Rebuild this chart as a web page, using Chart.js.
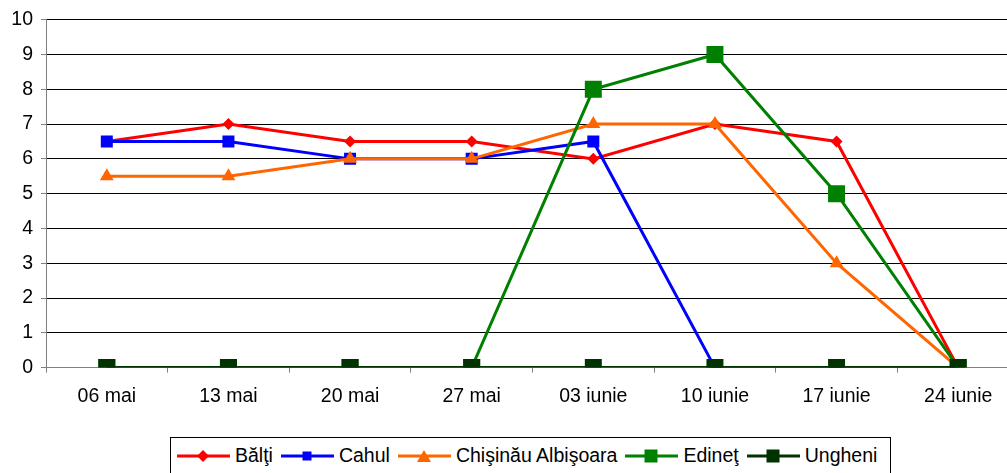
<!DOCTYPE html>
<html>
<head>
<meta charset="utf-8">
<script src="https://cdn.jsdelivr.net/npm/chart.js@4"></script>
<style>
  html, body { margin: 0; padding: 0; background: #fff; overflow: hidden; }
  body { width: 1007px; height: 473px; position: relative; font-family: "Liberation Sans", Arial, sans-serif; }
  #chart { position: absolute; left: 0; top: 0; }
  #legend {
    position: absolute; left: 170px; top: 437px; width: 721px; height: 40px;
    border: 1px solid #000; box-sizing: border-box; display: flex; align-items: flex-start;
    padding: 6px 0 0 6px; font-size: 19.5px; color: #000; white-space: nowrap;
  }
  #legend .item { display: flex; align-items: center; margin-right: 8px; }
  #legend svg { margin-right: 5px; }
</style>
</head>
<body>
<canvas id="chart" width="1031" height="420"></canvas>
<div id="legend"></div>
<script>
// categories (weeks)
const weeks = ['06 mai', '13 mai', '20 mai', '27 mai', '03 iunie', '10 iunie', '17 iunie', '24 iunie'];

// series values
const balti     = [6.5, 7, 6.5, 6.5, 6, 7, 6.5, 0];
const cahul     = [6.5, 6.5, 6, 6, 6.5, 0, 0, 0];
const albisoara = [5.5, 5.5, 6, 6, 7, 7, 3, 0];
const edinet    = [0, 0, 0, 0, 8, 9, 5, 0];
const ungheni   = [0, 0, 0, 0, 0, 0, 0, 0];

const seriesNames = ['Bălţi', 'Cahul', 'Chişinău Albişoara', 'Edineţ', 'Ungheni'];
const seriesData = [balti, cahul, albisoara, edinet, ungheni];

// y axis ticks
const yMin = 0, yMax = 10, yStep = 1;

// look of each series
const colors  = ['#ff0000', '#0000ff', '#ff6600', '#008000', '#003300'];
const markers = ['rectRot', 'rect', 'triangle', 'rect', 'rect'];
const radii   = [6, 8.5, 8, 12, 12];

const FONT = '"Liberation Sans", Arial, sans-serif';
const FSIZE = 19.5;

const datasets = seriesNames.map((name, i) => ({
    label: name,
    data: seriesData[i],
    borderColor: colors[i],
    backgroundColor: colors[i],
    borderWidth: 3,
    pointStyle: markers[i],
    pointRadius: radii[i],
    pointBorderWidth: 0,
    pointHoverRadius: radii[i],
    tension: 0,
    order: seriesNames.length - i   // later series on top
}));

new Chart(document.getElementById('chart'), {
    type: 'line',
    data: { labels: weeks, datasets: datasets },
    options: {
        responsive: false,
        animation: false,
        layout: { padding: { top: 12, right: 0, bottom: 0, left: 0 } },
        plugins: { legend: { display: false }, tooltip: { enabled: false } },
        scales: {
            x: {
                offset: true,
                grid: { offset: true, drawOnChartArea: false, tickLength: 5, color: '#808080' },
                border: { color: '#808080' },
                ticks: { color: '#000', padding: 12, maxRotation: 0, font: { family: FONT, size: FSIZE } }
            },
            y: {
                min: yMin,
                max: yMax,
                afterFit: (scale) => { scale.width = 46; },
                grid: {
                    color: (ctx) => (ctx.tick && ctx.tick.value === 0) ? '#808080' : '#000000',
                    tickColor: '#808080',
                    tickLength: 5
                },
                border: { color: '#808080' },
                ticks: { stepSize: yStep, color: '#000', padding: 8, font: { family: FONT, size: FSIZE } }
            }
        }
    }
});

// ---- legend (line + marker like the original) ----
function markerSvg(i) {
    const c = colors[i];
    const cx = 26, cy = 8;
    let m = '';
    if (markers[i] === 'rectRot') {
        m = `<polygon points="${cx-6},${cy} ${cx},${cy-6} ${cx+6},${cy} ${cx},${cy+6}" fill="${c}"/>`;
    } else if (markers[i] === 'triangle') {
        m = `<polygon points="${cx-7},${cy+6} ${cx},${cy-6} ${cx+7},${cy+6}" fill="${c}"/>`;
    } else {
        const s = i === 1 ? 9 : 13;
        m = `<rect x="${cx - s/2}" y="${cy - s/2}" width="${s}" height="${s}" fill="${c}"/>`;
    }
    return `<svg width="53" height="16" viewBox="0 0 53 16"><line x1="0" y1="${cy}" x2="53" y2="${cy}" stroke="${c}" stroke-width="3"/>${m}</svg>`;
}

const legendEl = document.getElementById('legend');
seriesNames.forEach((name, i) => {
    const item = document.createElement('div');
    item.className = 'item';
    item.innerHTML = markerSvg(i) + `<span>${name}</span>`;
    legendEl.appendChild(item);
});
</script>
</body>
</html>
